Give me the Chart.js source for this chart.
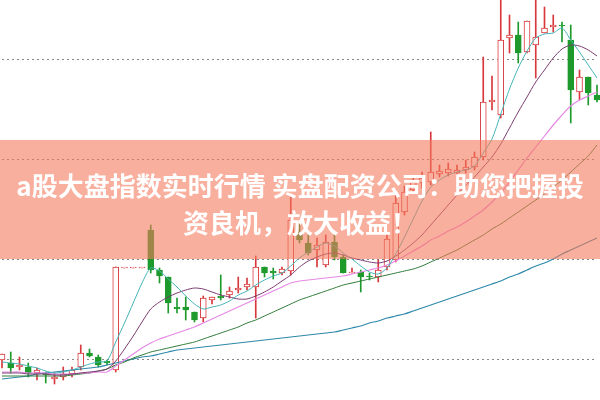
<!DOCTYPE html>
<html>
<head>
<meta charset="utf-8">
<script src="https://cdn.jsdelivr.net/npm/chart.js@4.4.1/dist/chart.umd.min.js"></script>
<style>
html,body{margin:0;padding:0;background:#fff}
#wrap{position:relative;width:600px;height:400px;overflow:hidden}
#banner{position:absolute;left:0;top:140px;width:600px;height:119px;box-sizing:border-box;padding-top:26px;
  background:rgba(245,122,92,0.6);color:#fff;font-family:"Noto Sans CJK SC","Noto Sans",sans-serif;
  font-weight:bold;font-size:26px;line-height:37px;text-align:center;white-space:nowrap}
</style>
</head>
<body>
<div id="wrap">
  <canvas id="chart" width="600" height="400"></canvas>
  <div id="banner">a股大盘指数实时行情 实盘配资公司：助您把握投<br>资良机，放大收益！</div>
</div>
<script>
// 69 trading days
const days = Array.from({length: 69}, (_, i) => 'D' + (i + 1));
const gridLevels = [9, 10, 11, 12];

const opens = [9.00,8.97,8.93,8.93,8.87,8.87,8.81,8.83,8.86,8.93,
  9.07,9.03,8.99,8.90,9.92,9.92,9.92,10.30,9.90,9.83,
  9.53,9.53,9.48,9.42,9.60,9.64,9.65,9.70,9.73,9.73,
  9.93,9.89,9.87,9.89,10.28,10.17,10.10,9.95,10.18,10.03,
  9.87,9.88,9.84,9.83,9.93,10.00,10.48,10.70,10.77,10.78,
  10.86,10.87,10.87,10.90,10.93,11.03,11.58,11.45,12.22,12.25,
  12.08,12.15,12.27,12.33,12.35,12.20,11.68,11.83,11.65];
const highs = [9.06,9.08,9.03,8.97,8.92,8.88,8.87,8.93,8.93,9.15,
  9.11,9.05,9.00,9.93,9.92,9.92,9.92,10.35,9.92,9.83,
  9.62,9.63,9.48,9.64,9.63,9.85,9.73,9.83,9.82,10.04,
  9.93,9.92,9.93,10.63,10.38,10.25,10.22,10.25,10.25,10.05,
  9.92,9.90,9.87,10.00,10.27,10.70,10.74,10.82,10.88,11.28,
  10.95,10.97,10.95,11.00,11.08,12.03,11.84,12.75,12.45,12.38,
  12.39,12.70,12.53,12.45,12.38,12.35,11.90,11.83,11.75];
const lows = [8.92,8.87,8.90,8.83,8.80,8.77,8.76,8.80,8.83,8.90,
  9.03,8.93,8.95,8.88,9.92,9.92,9.92,9.87,9.77,9.47,
  9.47,9.40,9.38,9.38,9.56,9.60,9.62,9.67,9.70,9.42,
  9.83,9.81,9.85,9.85,10.17,10.05,9.93,9.93,10.00,9.87,
  9.87,9.68,9.80,9.78,9.90,9.98,10.45,10.67,10.72,10.75,
  10.83,10.84,10.84,10.87,10.90,11.00,11.50,11.42,12.07,11.97,
  12.07,11.82,12.27,12.28,12.18,11.37,11.60,11.55,11.58];
const closes = [9.06,8.92,8.95,8.87,8.90,8.85,8.83,8.86,8.90,9.07,
  9.04,8.95,8.97,9.93,9.92,9.92,9.92,9.90,9.84,9.57,
  9.51,9.50,9.40,9.62,9.63,9.62,9.69,9.72,9.76,9.93,
  9.87,9.87,9.91,10.40,10.20,10.07,10.15,10.18,10.03,9.87,
  9.88,9.83,9.83,9.90,10.21,10.57,10.68,10.78,10.82,10.88,
  10.89,10.91,10.90,10.93,11.03,11.58,11.60,12.20,12.25,12.07,
  12.39,12.23,12.32,12.35,12.34,11.70,11.83,11.67,11.60];

const ma5 = [8.98,8.97,8.96,8.94,8.92,8.89,8.87,8.88,8.90,8.93,
  8.96,8.98,8.99,9.18,9.37,9.57,9.77,9.92,9.89,9.81,
  9.73,9.64,9.56,9.51,9.53,9.55,9.59,9.65,9.69,9.75,
  9.80,9.84,9.87,9.94,10.02,10.08,10.13,10.17,10.14,10.07,
  10.01,9.94,9.88,9.86,9.92,10.06,10.23,10.41,10.59,10.73,
  10.80,10.85,10.88,10.90,10.94,11.07,11.21,11.46,11.71,11.92,
  12.09,12.22,12.26,12.27,12.32,12.20,12.08,11.95,11.82];
const ma10 = [8.87,8.87,8.87,8.86,8.86,8.86,8.85,8.85,8.86,8.87,
  8.88,8.89,8.91,8.99,9.11,9.24,9.38,9.51,9.58,9.63,
  9.67,9.70,9.72,9.71,9.68,9.65,9.63,9.61,9.61,9.64,
  9.68,9.73,9.79,9.85,9.93,9.99,10.03,10.06,10.07,10.05,
  10.02,10.00,9.98,9.97,9.99,10.04,10.10,10.17,10.25,10.35,
  10.45,10.55,10.65,10.75,10.83,10.93,11.03,11.16,11.32,11.48,
  11.63,11.78,11.90,12.02,12.11,12.15,12.14,12.10,12.04];
const ma20 = [8.88,8.88,8.88,8.87,8.87,8.87,8.86,8.86,8.86,8.87,
  8.87,8.88,8.88,8.94,9.00,9.06,9.12,9.17,9.21,9.24,
  9.27,9.30,9.33,9.37,9.41,9.45,9.49,9.53,9.57,9.61,
  9.65,9.69,9.73,9.77,9.79,9.80,9.81,9.82,9.83,9.84,
  9.86,9.88,9.90,9.92,9.95,9.99,10.04,10.09,10.14,10.20,
  10.24,10.29,10.33,10.38,10.44,10.50,10.58,10.67,10.78,10.90,
  11.02,11.13,11.24,11.35,11.45,11.54,11.60,11.64,11.68];
const ma30 = [8.84,8.84,8.84,8.84,8.84,8.84,8.84,8.84,8.85,8.86,
  8.87,8.89,8.91,8.95,8.98,9.02,9.05,9.08,9.10,9.12,
  9.14,9.16,9.18,9.21,9.24,9.27,9.30,9.33,9.37,9.40,
  9.44,9.48,9.52,9.56,9.60,9.63,9.66,9.69,9.72,9.75,
  9.77,9.79,9.81,9.83,9.85,9.87,9.89,9.91,9.94,9.98,
  10.02,10.06,10.10,10.15,10.20,10.25,10.31,10.36,10.42,10.48,
  10.54,10.60,10.66,10.73,10.80,10.88,10.96,11.04,11.15];
const ma60 = [8.81,8.82,8.83,8.84,8.86,8.87,8.88,8.89,8.90,8.91,
  8.92,8.93,8.95,8.97,8.99,9.01,9.03,9.04,9.06,9.08,
  9.10,9.11,9.12,9.13,9.14,9.15,9.16,9.17,9.18,9.19,
  9.20,9.21,9.22,9.23,9.24,9.25,9.26,9.27,9.28,9.30,
  9.32,9.34,9.37,9.39,9.42,9.44,9.46,9.49,9.52,9.55,
  9.58,9.61,9.64,9.67,9.70,9.73,9.76,9.79,9.83,9.86,
  9.90,9.94,9.97,10.01,10.06,10.10,10.14,10.18,10.22];

const red = '#d8383c';
const green = '#1e9a2c';

const up = closes.map((c, i) => c >= opens[i]);
const candleColor = up.map(u => u ? red : green);
const bodyFill = up.map(u => u ? '#ffffff' : green);
const bodies = opens.map((o, i) => [o, closes[i]]);
const wicks = lows.map((l, i) => [l, highs[i]]);

function maLine(data, color, width) {
  return {type: 'line', data: data, borderColor: color, borderWidth: width,
    pointRadius: 0, tension: 0.25, fill: false, order: 0, clip: false};
}

const ctx = document.getElementById('chart').getContext('2d');
new Chart(ctx, {
  data: {
    labels: days,
    datasets: [
      maLine(ma5, '#45b3b8', 1),
      maLine(ma10, '#7a3b70', 1),
      maLine(ma20, '#e68ae6', 1.2),
      maLine(ma30, '#2f7a38', 1),
      maLine(ma60, '#2f88aa', 1.2),
      {type: 'bar', data: bodies, backgroundColor: bodyFill, borderColor: candleColor,
        borderWidth: 1, borderSkipped: false, barThickness: 6, minBarLength: 1,
        grouped: false, order: 1, clip: false},
      {type: 'bar', data: wicks, backgroundColor: candleColor, barThickness: 1,
        grouped: false, order: 2, clip: false}
    ]
  },
  options: {
    responsive: false,
    animation: false,
    events: [],
    layout: {padding: {left: 2, right: 3, top: 0, bottom: 0}},
    plugins: {legend: {display: false}, tooltip: {enabled: false}},
    scales: {
      x: {display: false, offset: false},
      y: {
        min: 8.6, max: 12.6,
        afterBuildTicks: axis => { axis.ticks = gridLevels.map(v => ({value: v})); },
        ticks: {display: false},
        border: {display: false, dash: [2, 3]},
        grid: {drawTicks: false, color: '#888888', lineWidth: 1}
      }
    }
  }
});
</script>
</body>
</html>
